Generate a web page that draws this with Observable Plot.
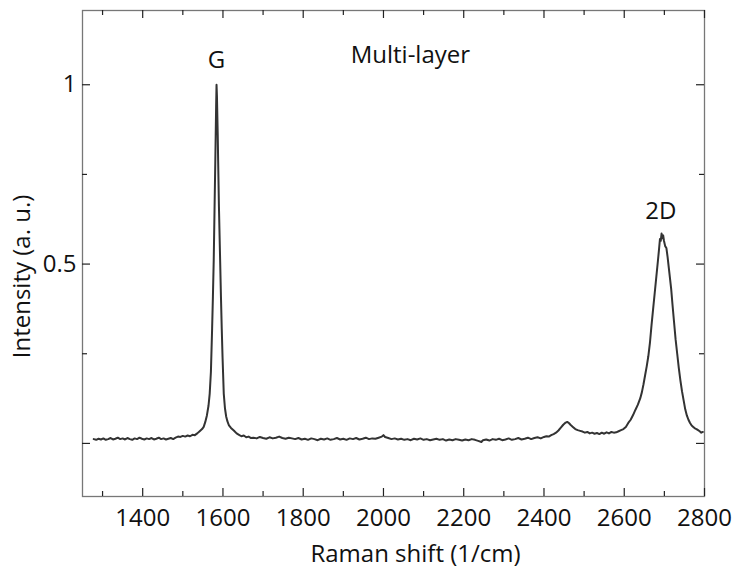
<!DOCTYPE html>
<html>
<head>
<meta charset="utf-8">
<script src="https://cdn.jsdelivr.net/npm/d3@7"></script>
<script src="https://cdn.jsdelivr.net/npm/@observablehq/plot@0.6"></script>
<style>
  html, body { margin: 0; padding: 0; background: #fff; }
  #chart { width: 735px; height: 569px; }
</style>
</head>
<body>
<div id="chart"></div>
<script>
// ---- Data ----
const xDomain = [1250, 2800];
const yDomain = [-0.148, 1.207];
const xMajorTicks = [1400, 1600, 1800, 2000, 2200, 2400, 2600, 2800];
const xMinorTicks = [1300, 1500, 1700, 1900, 2100, 2300, 2500, 2700];
const yMajorTicks = [0, 0.5, 1];
const yMinorTicks = [0.25, 0.75];
const yTickLabels = [0.5, 1];
const xTitle = "Raman shift (1/cm)";
const yTitle = "Intensity (a. u.)";
const peakLabels = ["G", "Multi-layer", "2D"];
const peakLabelShift = [1584, 2067, 2691];
const peakLabelIntensity = [1.068, 1.082, 0.647];

// Raman spectrum: [shift (1/cm), normalised intensity]
const spectrum = [
  [1278,.012],[1284,.010],[1290,.013],[1296,.011],[1302,.014],[1308,.010],[1314,.012],[1320,.015],[1326,.011],[1332,.013],
  [1338,.016],[1344,.012],[1350,.014],[1356,.011],[1362,.015],[1368,.012],[1374,.010],[1380,.014],[1386,.012],[1392,.016],
  [1398,.013],[1404,.011],[1410,.014],[1416,.012],[1422,.015],[1428,.011],[1434,.013],[1440,.016],[1446,.012],[1452,.014],
  [1458,.011],[1464,.013],[1470,.015],[1476,.012],[1482,.016],[1488,.019],[1494,.018],[1500,.021],[1506,.019],[1512,.022],
  [1518,.020],[1524,.024],[1530,.023],[1536,.028],
  [1542,.034],[1548,.040],[1552,.046],[1556,.060],[1560,.078],[1564,.105],[1567,.139],[1570,.20],[1573,.32],[1575,.41],
  [1577,.51],[1579,.65],[1581,.79],[1583,.94],[1584,1.00],[1585,.97],[1587,.86],[1588,.79],[1590,.66],[1593,.51],
  [1595,.41],[1597,.32],[1599,.24],[1602,.139],[1605,.098],[1608,.075],[1611,.062],[1615,.050],[1620,.043],[1627,.036],
  [1634,.028],[1640,.024],[1646,.020],[1652,.022],[1658,.017],[1664,.019],[1670,.015],
  [1676,.016],[1684,.014],[1692,.018],[1700,.015],[1708,.013],[1716,.017],[1724,.014],[1732,.016],[1740,.019],[1748,.015],
  [1756,.013],[1764,.016],[1772,.014],[1780,.012],[1788,.015],[1796,.011],[1804,.013],[1812,.010],[1820,.014],[1828,.012],
  [1836,.009],[1844,.013],[1852,.011],[1860,.014],[1868,.010],[1876,.012],[1884,.015],[1892,.011],[1900,.013],[1908,.010],
  [1916,.014],[1924,.012],[1932,.015],[1940,.011],[1948,.013],[1956,.016],[1964,.012],[1972,.014],[1980,.013],[1988,.016],
  [1996,.019],[2000,.023],[2004,.018],[2012,.015],[2020,.012],[2028,.014],[2036,.011],[2044,.013],[2052,.010],[2060,.012],
  [2068,.009],[2076,.013],[2084,.011],[2092,.014],[2100,.010],[2108,.012],[2116,.009],[2124,.011],[2132,.013],[2140,.010],
  [2148,.012],[2156,.008],[2164,.011],[2172,.009],[2180,.012],[2188,.010],[2196,.008],[2204,.011],[2212,.009],[2220,.012],
  [2228,.010],[2236,.007],[2244,.004],[2248,.009],[2256,.011],[2264,.008],[2272,.012],[2280,.010],[2288,.013],[2296,.009],
  [2304,.011],[2312,.014],[2320,.010],[2328,.012],[2336,.015],[2344,.011],[2352,.013],[2360,.016],[2368,.012],[2376,.015],
  [2384,.017],[2392,.014],[2400,.018],
  [2406,.020],[2412,.019],[2418,.023],[2424,.026],[2430,.030],[2436,.036],[2442,.044],[2448,.052],[2454,.058],[2458,.060],
  [2462,.057],[2466,.052],[2472,.046],[2478,.040],[2484,.037],[2490,.035],[2496,.033],[2502,.030],[2508,.032],[2514,.028],
  [2520,.030],[2526,.027],[2532,.029],[2538,.026],[2544,.030],[2550,.027],[2556,.031],[2562,.028],[2568,.032],[2574,.030],
  [2580,.031],[2586,.034],[2592,.037],[2598,.040],[2604,.046],[2610,.057],[2616,.066],[2622,.079],[2628,.094],[2634,.108],
  [2640,.126],[2644,.143],[2648,.165],[2652,.19],[2656,.215],[2660,.243],[2664,.28],[2668,.33],[2672,.375],[2676,.42],
  [2680,.465],[2684,.51],[2687,.545],[2689,.57],[2691,.565],[2693,.585],[2695,.572],[2697,.58],[2699,.565],[2702,.55],
  [2705,.545],[2708,.52],[2711,.49],[2714,.46],[2717,.43],[2720,.39],[2724,.34],[2728,.29],[2732,.25],[2736,.21],
  [2740,.175],[2744,.145],[2748,.12],[2752,.095],[2756,.078],[2760,.066],[2764,.057],[2768,.050],[2772,.046],[2776,.042],
  [2780,.040],[2784,.037],[2788,.034],[2792,.030],[2796,.032]
];

// ---- Layout ----
const W = 735, H = 569;
const mL = 82, mR = 31, mT = 10, mB = 73;
const plotW = W - mL - mR, plotH = H - mT - mB;
const major = 8, minor = 5;
const tickColor = "#222";
const font = "'Open Sans', 'DejaVu Sans', sans-serif";
const fs = 24;

const annotations = peakLabels.map((t, i) => ({text: t, x: peakLabelShift[i], y: peakLabelIntensity[i]}));

const chart = Plot.plot({
  width: W,
  height: H,
  marginLeft: mL,
  marginRight: mR,
  marginTop: mT,
  marginBottom: mB,
  style: {fontFamily: font, fontSize: fs + "px", color: "#111", background: "#fff", overflow: "visible"},
  x: {domain: xDomain},
  y: {domain: yDomain},
  marks: [
    Plot.frame({stroke: "#777", strokeWidth: 1.3}),
    // inward ticks, bottom & top
    Plot.tickX(xMajorTicks, {x: d => d, insetTop: plotH - major, stroke: tickColor, strokeWidth: 1.2}),
    Plot.tickX(xMinorTicks, {x: d => d, insetTop: plotH - minor, stroke: tickColor, strokeWidth: 1.2}),
    Plot.tickX(xMajorTicks, {x: d => d, insetBottom: plotH - major, stroke: tickColor, strokeWidth: 1.2}),
    Plot.tickX(xMinorTicks, {x: d => d, insetBottom: plotH - minor, stroke: tickColor, strokeWidth: 1.2}),
    // inward ticks, left & right
    Plot.tickY(yMajorTicks, {y: d => d, insetRight: plotW - major, stroke: tickColor, strokeWidth: 1.2}),
    Plot.tickY(yMinorTicks, {y: d => d, insetRight: plotW - minor, stroke: tickColor, strokeWidth: 1.2}),
    Plot.tickY(yMajorTicks, {y: d => d, insetLeft: plotW - major, stroke: tickColor, strokeWidth: 1.2}),
    Plot.tickY(yMinorTicks, {y: d => d, insetLeft: plotW - minor, stroke: tickColor, strokeWidth: 1.2}),
    // tick labels
    Plot.axisX(xMajorTicks, {tickSize: 0, tickPadding: 12, label: null, fontSize: fs, fill: "#111", tickFormat: d => String(d)}),
    Plot.axisY(yTickLabels, {tickSize: 0, tickPadding: 6, label: null, fontSize: fs, fill: "#111", tickFormat: d => String(d)}),
    // spectrum
    Plot.line(spectrum, {x: d => d[0], y: d => d[1], stroke: "#333", strokeWidth: 2, strokeLinejoin: "round"}),
    // annotations
    Plot.text(annotations, {x: "x", y: "y", text: "text", fontSize: fs, fill: "#111"}),
    // axis titles
    Plot.text([xTitle], {text: d => d, frameAnchor: "bottom", lineAnchor: "middle", textAnchor: "middle", dx: 22, dy: 58, fontSize: fs, fill: "#111"}),
    Plot.text([yTitle], {text: d => d, frameAnchor: "left", lineAnchor: "middle", textAnchor: "middle", rotate: -90, dx: -60, dy: 23, fontSize: fs, fill: "#111"})
  ]
});
document.getElementById("chart").appendChild(chart);
</script>
</body>
</html>
